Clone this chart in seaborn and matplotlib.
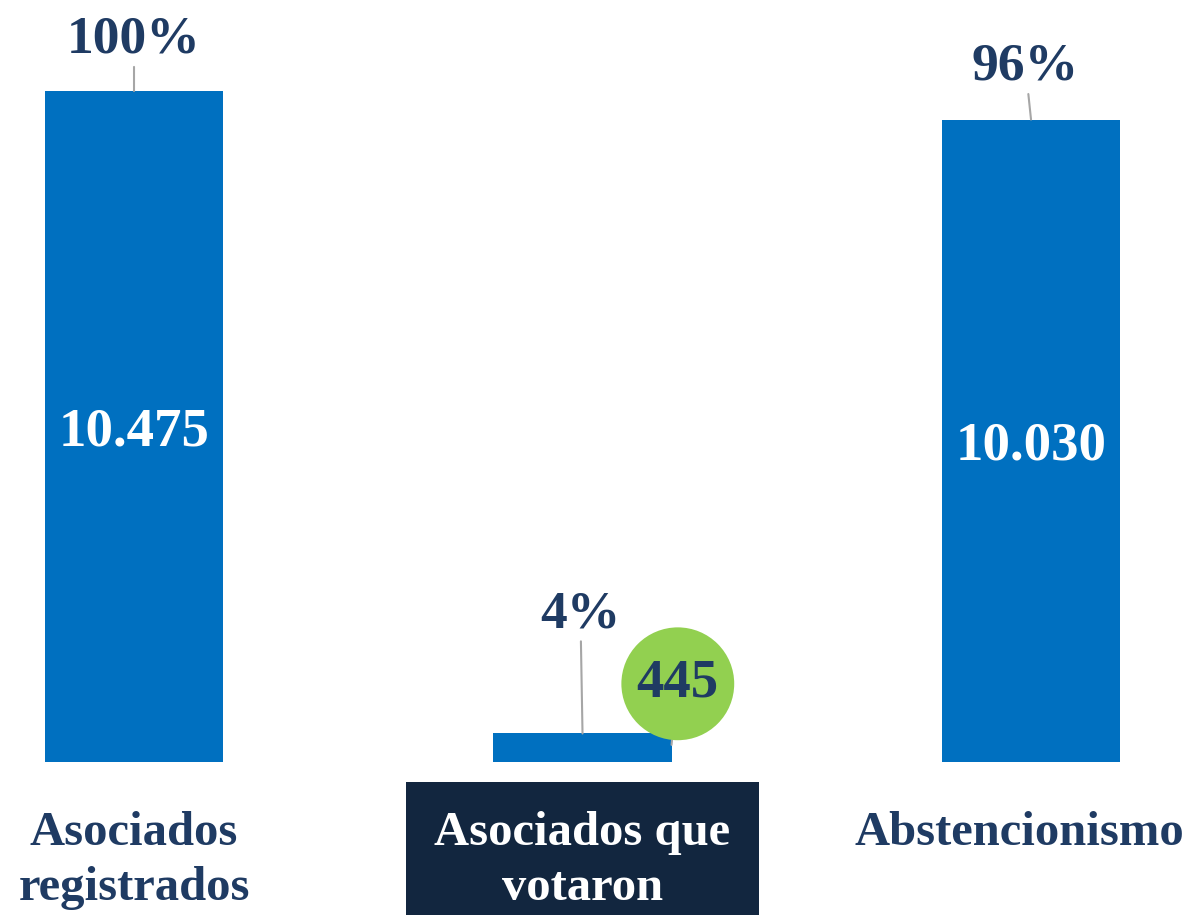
import pandas as pd
import seaborn as sns
import matplotlib.pyplot as plt
from matplotlib.transforms import ScaledTranslation

categories = ["Asociados\nregistrados", "Asociados que\nvotaron", "Abstencionismo"]
values = [10475, 445, 10030]
percents = [100, 4, 96]

bar_color = "#0070C0"
navy = "#1F3B63"
box_color = "#12263F"
green = "#92D050"
gray = "#A6A6A6"

sns.set_theme(style="white")
plt.rcParams["font.family"] = ["Liberation Serif", "DejaVu Serif"]
plt.rcParams["font.weight"] = "bold"

df = pd.DataFrame({"cat": categories, "val": values})

fig = plt.figure(figsize=(11.88, 9.15), dpi=100)
ax = fig.add_axes([0, 153 / 915, 1, 762 / 915])
sns.barplot(data=df, x="cat", y="val", color=bar_color, saturation=1,
            width=0.397, linewidth=0, ax=ax)

ax.set_xlim(-0.2988, 2.350)
ax.set_ylim(0, 11896)
for s in ax.spines.values():
    s.set_visible(False)
ax.set_yticks([])
ax.set_xlabel("")
ax.set_ylabel("")
ax.tick_params(axis="x", length=0, pad=35)
ax.set_xticks(range(len(categories)))
ax.set_xticklabels(categories, fontsize=35, fontweight="bold", color=navy,
                   linespacing=1.33)
labels = ax.get_xticklabels()
labels[1].set_color("white")
labels[1].set_bbox(dict(boxstyle="square,pad=0.58", facecolor=box_color, edgecolor="none"))
# keep the last label inside the figure
labels[2].set_transform(labels[2].get_transform()
                        + ScaledTranslation(-12 / 100, 0, fig.dpi_scale_trans))

# percent labels with leader lines
offsets = [(0, 37), (-1.5, 86), (-4, 38)]
for i, (v, p) in enumerate(zip(values, percents)):
    ax.annotate(f"{p}%", xy=(i, v), xytext=offsets[i], textcoords="offset points",
                ha="center", va="center", fontsize=38.5, fontweight="bold", color=navy,
                arrowprops=dict(arrowstyle="-", color=gray, lw=1.5, shrinkA=0, shrinkB=0))

# values inside tall bars
for i, v in enumerate(values):
    if i == 1:
        continue
    ax.text(i, v / 2, f"{v:,}".replace(",", "."), ha="center", va="center_baseline",
            fontsize=39.5, fontweight="bold", color="white")

# small bar value in green circle
p = ax.patches[1]
ax.annotate(f"{values[1]}", xy=(p.get_x() + p.get_width(), p.get_height() * 0.6),
            xytext=(4.5, 44), textcoords="offset points",
            ha="center", va="center", fontsize=39.5, fontweight="bold", color=navy,
            bbox=dict(boxstyle="circle,pad=0.28", facecolor=green, edgecolor="none"),
            arrowprops=dict(arrowstyle="-", color=gray, lw=1.5, shrinkA=0, shrinkB=0))

fig.savefig("out.png", dpi=100)
